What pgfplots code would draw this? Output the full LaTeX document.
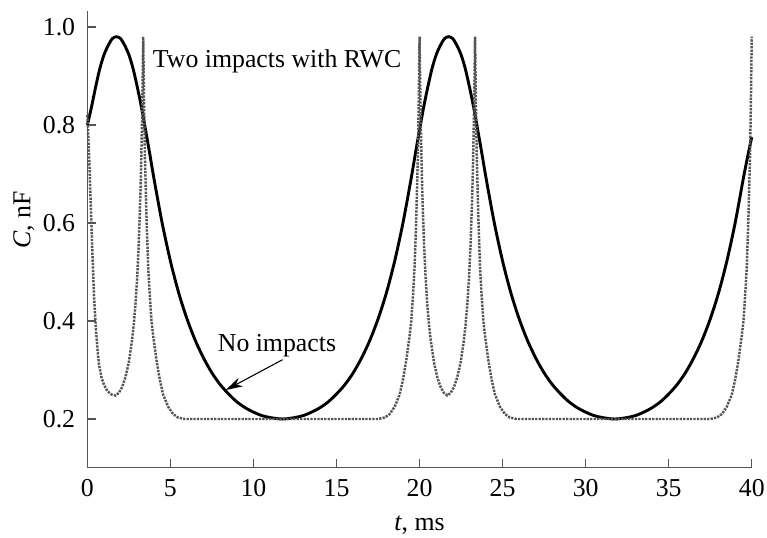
\documentclass[border=0pt]{standalone}
\usepackage{fontspec}
\setmainfont{Liberation Serif}
\usepackage{pgfplots}
\pgfplotsset{compat=1.18}
\usetikzlibrary{arrows.meta}
\definecolor{axgray}{HTML}{555555}
\definecolor{dotgray}{HTML}{555555}
\begin{document}
\fontsize{12}{14.4}\selectfont
\begin{tikzpicture}
\begin{axis}[
  at={(0,0)}, anchor=south west,
  scale only axis, width=309pt, height=212.56pt,
  xmin=0, xmax=40, ymin=0.1006, ymax=1.033,
  axis x line*=bottom, axis y line*=left,
  axis line style={axgray, line width=0.6pt},
  tick align=inside, major tick length=4pt,
  tick style={axgray, line width=0.6pt},
  xtick={0,5,...,40}, ytick={0.2,0.4,0.6,0.8,1.0},
  /pgf/number format/assume math mode=true,
  yticklabel style={xshift=-1.5pt, /pgf/number format/.cd, fixed, fixed zerofill, precision=1},
  xticklabel style={yshift=-1.2pt},
  xlabel={\textit{t}, ms},
  ylabel={\textit{C}, nF},
  every axis x label/.style={at={(axis description cs:0.5,-0.126)}, anchor=center},
  every axis y label/.style={at={(axis description cs:-0.0958,0.542)}, rotate=90, anchor=center},
  clip=false,
]
% No impacts (solid)
\addplot[black, line width=1.35pt, smooth, tension=0.5] coordinates {
(0,0.800) (0.25,0.837) (0.5,0.878) (0.75,0.915) (1.0,0.943) (1.25,0.962) (1.5,0.976) (1.75,0.980)
(2.0,0.976) (2.25,0.962) (2.5,0.943) (2.75,0.915) (3.0,0.878) (3.25,0.837) (3.5,0.790) (3.75,0.742)
(4.0,0.692) (4.5,0.600) (5.0,0.522) (5.5,0.457) (6.0,0.404) (6.5,0.360) (7.0,0.324) (7.5,0.294)
(8.0,0.270) (8.5,0.251) (9.0,0.235) (9.5,0.223) (10.0,0.214) (10.5,0.207) (11.0,0.203) (11.5,0.2005)
(11.75,0.200) (12.0,0.2005) (12.5,0.203) (13.0,0.207) (13.5,0.214) (14.0,0.223) (14.5,0.235) (15.0,0.251)
(15.5,0.270) (16.0,0.294) (16.5,0.324) (17.0,0.360) (17.5,0.404) (18.0,0.457) (18.5,0.522) (19.0,0.600)
(19.5,0.692) (19.75,0.742) (20.0,0.790)
(20.25,0.837) (20.5,0.878) (20.75,0.915) (21.0,0.943) (21.25,0.962) (21.5,0.976) (21.75,0.980)
(22.0,0.976) (22.25,0.962) (22.5,0.943) (22.75,0.915) (23.0,0.878) (23.25,0.837) (23.5,0.790) (23.75,0.742)
(24.0,0.692) (24.5,0.600) (25.0,0.522) (25.5,0.457) (26.0,0.404) (26.5,0.360) (27.0,0.324) (27.5,0.294)
(28.0,0.270) (28.5,0.251) (29.0,0.235) (29.5,0.223) (30.0,0.214) (30.5,0.207) (31.0,0.203) (31.5,0.2005)
(31.75,0.200) (32.0,0.2005) (32.5,0.203) (33.0,0.207) (33.5,0.214) (34.0,0.223) (34.5,0.235) (35.0,0.251)
(35.5,0.270) (36.0,0.294) (36.5,0.324) (37.0,0.360) (37.5,0.404) (38.0,0.457) (38.5,0.522) (39.0,0.600)
(39.5,0.692) (39.75,0.735) (40.0,0.775)
};
% Two impacts with RWC (dotted)
\addplot[dotgray, line width=1.15pt, dash pattern=on 1.05pt off 0.55pt] coordinates {
(0,0.82) (0.1,0.74) (0.2,0.64) (0.3,0.54) (0.4,0.45) (0.5,0.39) (0.6,0.345) (0.7,0.31) (0.85,0.285)
(1.0,0.27) (1.2,0.257) (1.45,0.25) (1.69,0.248) (1.89,0.253) (2.09,0.265) (2.29,0.285) (2.49,0.315)
(2.69,0.361) (2.79,0.392) (2.89,0.432) (2.99,0.484) (3.09,0.555) (3.19,0.656) (3.24,0.725) (3.29,0.811)
(3.33,0.899) (3.36,0.98)
(3.41,0.85) (3.46,0.74) (3.56,0.61) (3.66,0.51) (3.76,0.45) (3.86,0.40) (3.96,0.37) (4.16,0.32)
(4.36,0.28) (4.56,0.25) (4.86,0.225) (5.16,0.21) (5.46,0.203) (5.86,0.2)
(17.5,0.2) (17.9,0.203) (18.2,0.21) (18.5,0.225) (18.8,0.25) (19.0,0.28) (19.2,0.32) (19.4,0.37)
(19.5,0.40) (19.6,0.45) (19.7,0.51) (19.8,0.61) (19.9,0.74) (19.95,0.85) (20.0,0.98)
(20.03,0.899) (20.07,0.811) (20.12,0.725) (20.17,0.656) (20.27,0.555) (20.37,0.484) (20.47,0.432)
(20.57,0.392) (20.67,0.361) (20.87,0.315) (21.07,0.285) (21.27,0.265) (21.47,0.253) (21.67,0.248)
(21.87,0.253) (22.07,0.265) (22.27,0.285) (22.47,0.315) (22.67,0.361) (22.77,0.392) (22.87,0.432)
(22.97,0.484) (23.07,0.555) (23.17,0.656) (23.22,0.725) (23.27,0.811) (23.31,0.899) (23.34,0.98)
(23.39,0.85) (23.44,0.74) (23.54,0.61) (23.64,0.51) (23.74,0.45) (23.84,0.40) (23.94,0.37) (24.14,0.32)
(24.34,0.28) (24.54,0.25) (24.84,0.225) (25.14,0.21) (25.44,0.203) (25.84,0.2)
(37.5,0.2) (37.9,0.203) (38.2,0.21) (38.5,0.225) (38.8,0.25) (39.0,0.28) (39.2,0.32) (39.4,0.37)
(39.5,0.40) (39.6,0.45) (39.7,0.51) (39.8,0.61) (39.9,0.74) (39.95,0.85) (40.0,0.98)
};
\node[anchor=base west, inner sep=0] at (axis cs:3.92,0.918) {Two impacts with RWC};
\node[anchor=base west, inner sep=0] at (axis cs:7.83,0.337) {No impacts};
\draw[-{Stealth[length=8pt,width=4.5pt]}, line width=0.5pt] (axis cs:11.75,0.321) -- (axis cs:8.33,0.259);
\end{axis}
\pgfresetboundingbox
\path (-40.65pt,-32.23pt) rectangle (316.09pt,217.54pt);
\end{tikzpicture}
\end{document}
